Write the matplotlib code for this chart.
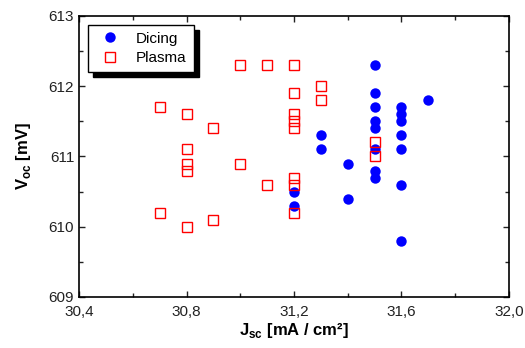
import matplotlib
matplotlib.use("Agg")
import matplotlib.pyplot as plt
from matplotlib.ticker import MultipleLocator

plt.rcParams['font.family'] = ['Liberation Sans', 'DejaVu Sans']
plt.rcParams['mathtext.fontset'] = 'custom'
plt.rcParams['mathtext.rm'] = 'Liberation Sans'
plt.rcParams['mathtext.bf'] = 'Liberation Sans:bold'

# Dicing samples (Jsc, Voc)
dicing_jsc = [31.2, 31.2, 31.3, 31.3, 31.4, 31.4,
              31.5, 31.5, 31.5, 31.5, 31.5, 31.5, 31.5, 31.5,
              31.6, 31.6, 31.6, 31.6, 31.6, 31.6, 31.6, 31.7]
dicing_voc = [610.5, 610.3, 611.3, 611.1, 610.9, 610.4,
              612.3, 611.9, 611.7, 611.5, 611.4, 611.1, 610.8, 610.7,
              611.7, 611.6, 611.5, 611.3, 611.1, 610.6, 609.8, 611.8]

# Plasma samples (Jsc, Voc)
plasma_jsc = [30.7, 30.7, 30.8, 30.8, 30.8, 30.8, 30.8, 30.9, 30.9,
              31.0, 31.0, 31.1, 31.1,
              31.2, 31.2, 31.2, 31.2, 31.2, 31.2, 31.2, 31.2,
              31.3, 31.3, 31.5, 31.5]
plasma_voc = [611.7, 610.2, 611.6, 611.1, 610.9, 610.8, 610.0, 611.4, 610.1,
              612.3, 610.9, 612.3, 610.6,
              612.3, 611.9, 611.6, 611.5, 611.4, 610.7, 610.6, 610.2,
              612.0, 611.8, 611.2, 611.0]

xticks = [30.4, 30.8, 31.2, 31.6, 32.0]
xtick_labels = ['30,4', '30,8', '31,2', '31,6', '32,0']
yticks = [609, 610, 611, 612, 613]

fig = plt.figure(figsize=(5.25, 3.48), dpi=100)
ax = fig.add_axes([0.1505, 0.1466, 0.819, 0.8075])

ax.plot(dicing_jsc, dicing_voc, 'o', color='#0000ff', markersize=7.5,
        markeredgewidth=0, label='Dicing', zorder=3)
ax.plot(plasma_jsc, plasma_voc, 's', color='red', markerfacecolor='none',
        markersize=6.5, markeredgewidth=1.0, label='Plasma', zorder=4)

ax.set_xlim(30.4, 32.0)
ax.set_ylim(609, 613)
ax.set_xticks(xticks)
ax.set_xticklabels(xtick_labels)
ax.set_yticks(yticks)
ax.xaxis.set_minor_locator(MultipleLocator(0.2))
ax.yaxis.set_minor_locator(MultipleLocator(0.5))
ax.tick_params(which='both', direction='in', top=True, right=True,
               labelsize=11, width=1, colors='#222222', labelcolor='#222222')
ax.tick_params(which='major', length=4)
ax.tick_params(which='minor', length=3)
ax.tick_params(axis='x', which='major', pad=6)
for s in ax.spines.values():
    s.set_linewidth(1.2)

ax.set_xlabel(r'J$_{\mathbf{sc}}$ [mA / cm²]', fontsize=12, fontweight='bold', labelpad=1)
ax.set_ylabel(r'V$_{\mathbf{oc}}$ [mV]', fontsize=12, fontweight='bold', labelpad=11)

leg = ax.legend(loc='upper left', bbox_to_anchor=(0.021, 0.968), borderaxespad=0,
                fancybox=False, edgecolor='black', fontsize=11, handletextpad=0.7,
                borderpad=0.45, labelspacing=0.35, handlelength=2.0,
                shadow={'color': 'black', 'alpha': 1, 'ox': 3.5, 'oy': -3.5})
leg.get_frame().set_linewidth(1.0)

fig.savefig('out.png', dpi=100)
